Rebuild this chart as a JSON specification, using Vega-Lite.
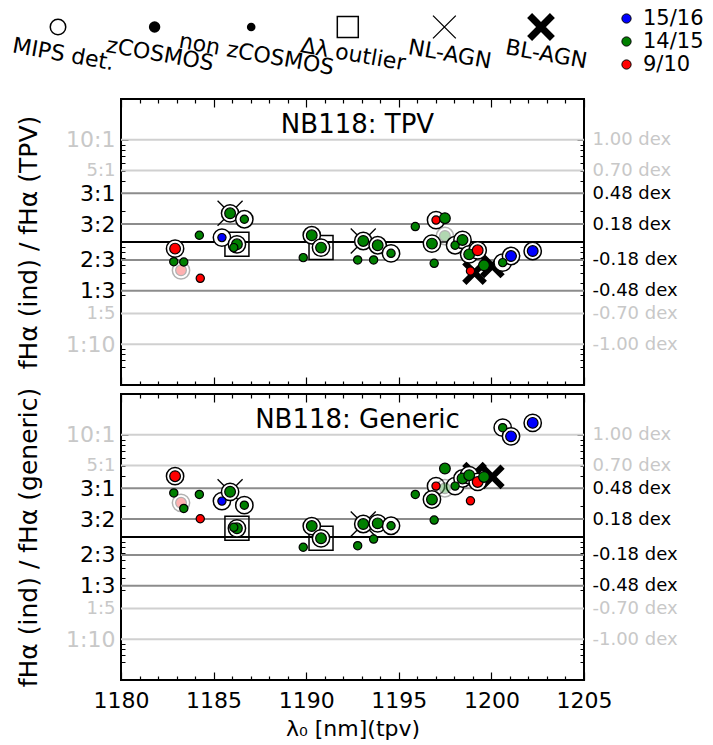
{
  "$schema": "https://vega.github.io/schema/vega-lite/v6.json",
  "padding": {"left": 9, "top": 0, "right": 5, "bottom": 5},
  "background": "white",
  "config": {
    "font": "DejaVu Sans",
    "view": {"stroke": "black", "strokeWidth": 2},
    "concat": {"spacing": 9},
    "axis": {"domain": false, "grid": false, "tickColor": "black", "labelFont": "DejaVu Sans", "titleFont": "DejaVu Sans", "titleFontWeight": "normal", "titleColor": "black", "labelOverlap": false, "labelFlush": false}
  },
  "datasets": {
    "leg": [{"k": "MIPS det."}, {"k": "zCOSMOS"}, {"k": "non zCOSMOS"}, {"k": "Δλ outlier"}, {"k": "NL-AGN"}, {"k": "BL-AGN"}],
    "grid": [{"r": 10}, {"r": 5}, {"r": 3}, {"r": 1.5}, {"r": 1}, {"r": 0.6666667}, {"r": 0.3333333}, {"r": 0.2}, {"r": 0.1}],
    "pts": [
      {"x": 1182.92, "t": 0.861, "g": 3.94, "c": "9/10", "z": 1, "m": 1, "o": 0, "a": "", "f": 0},
      {"x": 1182.85, "t": 0.642, "g": 2.70, "c": "14/15", "z": 0, "m": 0, "o": 0, "a": "", "f": 0},
      {"x": 1183.24, "t": 0.528, "g": 2.16, "c": "9/10", "z": 1, "m": 1, "o": 0, "a": "", "f": 1},
      {"x": 1183.39, "t": 0.637, "g": 1.905, "c": "14/15", "z": 0, "m": 0, "o": 0, "a": "", "f": 0},
      {"x": 1184.28, "t": 0.441, "g": 1.51, "c": "9/10", "z": 0, "m": 0, "o": 0, "a": "", "f": 0},
      {"x": 1184.23, "t": 1.164, "g": 2.61, "c": "14/15", "z": 0, "m": 0, "o": 0, "a": "", "f": 0},
      {"x": 1185.45, "t": 1.104, "g": 2.245, "c": "15/16", "z": 0, "m": 1, "o": 0, "a": "", "f": 0},
      {"x": 1185.89, "t": 1.91, "g": 2.77, "c": "14/15", "z": 1, "m": 1, "o": 0, "a": "NL", "f": 0},
      {"x": 1186.66, "t": 1.67, "g": 2.05, "c": "14/15", "z": 0, "m": 1, "o": 0, "a": "", "f": 0},
      {"x": 1186.26, "t": 0.949, "g": 1.216, "c": "14/15", "z": 1, "m": 1, "o": 1, "a": "", "f": 0},
      {"x": 1186.09, "t": 0.881, "g": 1.244, "c": "14/15", "z": 0, "m": 0, "o": 0, "a": "", "f": 0},
      {"x": 1189.84, "t": 0.703, "g": 0.794, "c": "14/15", "z": 0, "m": 0, "o": 0, "a": "", "f": 0},
      {"x": 1190.30, "t": 1.164, "g": 1.28, "c": "14/15", "z": 1, "m": 1, "o": 0, "a": "", "f": 0},
      {"x": 1190.80, "t": 0.881, "g": 0.971, "c": "14/15", "z": 1, "m": 1, "o": 1, "a": "", "f": 0},
      {"x": 1193.08, "t": 1.023, "g": 1.34, "c": "14/15", "z": 1, "m": 1, "o": 0, "a": "NL", "f": 0},
      {"x": 1192.78, "t": 0.667, "g": 0.822, "c": "14/15", "z": 0, "m": 0, "o": 0, "a": "", "f": 0},
      {"x": 1193.86, "t": 0.929, "g": 1.36, "c": "14/15", "z": 1, "m": 1, "o": 0, "a": "", "f": 0},
      {"x": 1193.64, "t": 0.667, "g": 0.955, "c": "14/15", "z": 0, "m": 0, "o": 0, "a": "", "f": 0},
      {"x": 1194.58, "t": 0.775, "g": 1.289, "c": "14/15", "z": 0, "m": 1, "o": 0, "a": "", "f": 0},
      {"x": 1195.89, "t": 1.416, "g": 2.61, "c": "14/15", "z": 0, "m": 0, "o": 0, "a": "", "f": 0},
      {"x": 1197.01, "t": 1.64, "g": 3.15, "c": "9/10", "z": 0, "m": 1, "o": 0, "a": "", "f": 0},
      {"x": 1197.49, "t": 1.71, "g": 4.68, "c": "14/15", "z": 1, "m": 0, "o": 0, "a": "", "f": 0},
      {"x": 1197.49, "t": 1.145, "g": 3.0, "c": "14/15", "z": 1, "m": 1, "o": 0, "a": "", "f": 1},
      {"x": 1196.79, "t": 0.964, "g": 2.33, "c": "14/15", "z": 1, "m": 1, "o": 0, "a": "", "f": 0},
      {"x": 1196.91, "t": 0.618, "g": 1.465, "c": "14/15", "z": 0, "m": 0, "o": 0, "a": "", "f": 0},
      {"x": 1198.04, "t": 0.929, "g": 3.15, "c": "14/15", "z": 0, "m": 1, "o": 0, "a": "", "f": 0},
      {"x": 1198.44, "t": 1.047, "g": 3.74, "c": "14/15", "z": 1, "m": 1, "o": 0, "a": "", "f": 0},
      {"x": 1198.80, "t": 0.757, "g": 4.03, "c": "14/15", "z": 1, "m": 1, "o": 0, "a": "", "f": 0},
      {"x": 1199.26, "t": 0.829, "g": 3.46, "c": "9/10", "z": 1, "m": 1, "o": 0, "a": "", "f": 0},
      {"x": 1198.87, "t": 0.52, "g": 2.26, "c": "9/10", "z": 0, "m": 0, "o": 0, "a": "", "f": 0},
      {"x": 1199.09, "t": 0.501, "g": 4.12, "c": "", "z": 0, "m": 0, "o": 0, "a": "BL", "f": 0},
      {"x": 1200.05, "t": 0.582, "g": 3.87, "c": "", "z": 0, "m": 0, "o": 0, "a": "BL", "f": 0},
      {"x": 1199.60, "t": 0.591, "g": 3.87, "c": "14/15", "z": 1, "m": 0, "o": 0, "a": "", "f": 0},
      {"x": 1200.61, "t": 0.628, "g": 11.75, "c": "14/15", "z": 0, "m": 1, "o": 0, "a": "", "f": 0},
      {"x": 1201.06, "t": 0.729, "g": 9.67, "c": "15/16", "z": 1, "m": 1, "o": 0, "a": "", "f": 0},
      {"x": 1202.23, "t": 0.816, "g": 13.1, "c": "15/16", "z": 1, "m": 1, "o": 0, "a": "", "f": 0}
    ]
  },
  "spacing": 17,
  "vconcat": [
    {
      "width": 463,
      "height": 24,
      "view": {"stroke": "transparent"},
      "data": {"name": "leg"},
      "layer": [
        {"transform": [{"filter": "datum.k=='MIPS det.'"}], "mark": {"type": "point", "shape": "circle", "filled": false, "stroke": "black", "strokeWidth": 1.5, "size": 240, "opacity": 1},
         "encoding": {"x": {"field": "k", "type": "nominal", "sort": null, "scale": {"type": "point", "domain": ["MIPS det.", "zCOSMOS", "non zCOSMOS", "Δλ outlier", "NL-AGN", "BL-AGN"], "range": [-63, 420], "padding": 0}, "axis": null}}},
        {"transform": [{"filter": "datum.k=='zCOSMOS'"}], "mark": {"type": "point", "shape": "circle", "filled": true, "color": "black", "size": 130, "opacity": 1},
         "encoding": {"x": {"field": "k", "type": "nominal", "axis": null}}},
        {"transform": [{"filter": "datum.k=='non zCOSMOS'"}], "mark": {"type": "point", "shape": "circle", "filled": true, "color": "black", "size": 75, "opacity": 1},
         "encoding": {"x": {"field": "k", "type": "nominal", "axis": null}}},
        {"transform": [{"filter": "datum.k=='Δλ outlier'"}], "mark": {"type": "point", "shape": "square", "filled": false, "stroke": "black", "strokeWidth": 1.5, "size": 440, "opacity": 1},
         "encoding": {"x": {"field": "k", "type": "nominal", "axis": null}}},
        {"transform": [{"filter": "datum.k=='NL-AGN'"}], "mark": {"type": "point", "shape": "M-1,-1L1,1M-1,1L1,-1", "filled": false, "stroke": "black", "strokeWidth": 1.3, "size": 520, "opacity": 1},
         "encoding": {"x": {"field": "k", "type": "nominal", "axis": null}}},
        {"transform": [{"filter": "datum.k=='BL-AGN'"}], "mark": {"type": "point", "shape": "M-1,-1L1,1M-1,1L1,-1", "filled": false, "stroke": "black", "strokeWidth": 7, "size": 520, "opacity": 1},
         "encoding": {"x": {"field": "k", "type": "nominal", "axis": null}}},
        {"mark": {"type": "text", "angle": 10, "align": "center", "baseline": "top", "dx": 10, "dy": 16, "fontSize": 22, "font": "DejaVu Sans", "color": "black"},
         "encoding": {"x": {"field": "k", "type": "nominal", "axis": null}, "text": {"field": "k"}}}
      ]
    },
    {
      "bounds": "flush",
      "spacing": 9,
      "vconcat": [
        {
          "width": 463,
          "height": 286,
          "layer": [
            {"data": {"name": "grid"}, "mark": {"type": "rule", "strokeWidth": 2},
             "encoding": {"y": {"field": "r", "type": "quantitative", "scale": {"type": "log", "domain": [0.0398, 25.12], "nice": false}, "axis": null},
                          "color": {"condition": [{"test": "datum.r==1", "value": "black"}, {"test": "datum.r>4||datum.r<0.25", "value": "#d0d0d0"}], "value": "#8c8c8c"}}},
            {"data": {"name": "pts"}, "transform": [{"filter": "datum.a=='BL'"}], "mark": {"type": "point", "shape": "M-1,-1L1,1M-1,1L1,-1", "filled": false, "stroke": "black", "strokeWidth": 6, "size": 420, "opacity": 1},
             "encoding": {"x": {"field": "x", "type": "quantitative", "scale": {"domain": [1180, 1205], "nice": false, "zero": false}, "axis": null},
                          "y": {"field": "t", "type": "quantitative", "axis": null}}},
            {"data": {"name": "pts"}, "transform": [{"filter": "datum.a=='NL'"}], "mark": {"type": "point", "shape": "M-1,-1L1,1M-1,1L1,-1", "filled": false, "stroke": "black", "strokeWidth": 1.3, "size": 625, "opacity": 1},
             "encoding": {"x": {"field": "x", "type": "quantitative", "axis": null}, "y": {"field": "t", "type": "quantitative", "axis": null}}},
            {"data": {"name": "pts"}, "transform": [{"filter": "datum.o==1"}], "mark": {"type": "point", "shape": "square", "filled": false, "stroke": "black", "strokeWidth": 1.5, "size": 576, "opacity": 1},
             "encoding": {"x": {"field": "x", "type": "quantitative", "axis": null}, "y": {"field": "t", "type": "quantitative", "axis": null}}},
            {"data": {"name": "pts"}, "transform": [{"filter": "datum.m==1"}], "mark": {"type": "point", "shape": "circle", "filled": true, "fill": "white", "stroke": "black", "strokeWidth": 1.5, "size": 300},
             "encoding": {"x": {"field": "x", "type": "quantitative", "axis": null}, "y": {"field": "t", "type": "quantitative", "axis": null},
                          "opacity": {"condition": {"test": "datum.f==1", "value": 0.3}, "value": 1}}},
            {"data": {"name": "pts"}, "transform": [{"filter": "datum.c!=''"}], "mark": {"type": "point", "shape": "circle", "filled": true, "stroke": "black", "strokeWidth": 1.2},
             "encoding": {
               "x": {"field": "x", "type": "quantitative", "axis": {"orient": "bottom", "values": [1180,1181,1182,1183,1184,1185,1186,1187,1188,1189,1190,1191,1192,1193,1194,1195,1196,1197,1198,1199,1200,1201,1202,1203,1204,1205], "labels": false, "title": null, "minExtent": 0, "maxExtent": 0, "tickWidth": 1.2, "tickSize": {"condition": {"test": "datum.value%5==0", "value": -8}, "value": -4}}},
               "y": {"field": "t", "type": "quantitative", "axis": {"orient": "left", "title": "fHα (ind) / fHα (TPV)", "titleFontSize": 25, "titlePadding": 30, "minExtent": 50, "maxExtent": 50,
                 "values": [0.06,0.07,0.08,0.09,0.1,0.2,0.3,0.4,0.5,0.6,0.7,0.8,0.9,1,2,3,4,5,6,7,8,9,10,1.5,0.6666667,0.3333333],
                 "labelExpr": "datum.value==10?'10:1':datum.value==5?'5:1':datum.value==3?'3:1':datum.value==1.5?'3:2':abs(datum.value-0.6666667)<0.0001?'2:3':abs(datum.value-0.3333333)<0.0001?'1:3':datum.value==0.2?'1:5':datum.value==0.1?'1:10':''",
                 "labelFontSize": {"condition": {"test": "datum.value==5||datum.value==0.2", "value": 18}, "value": 22},
                 "labelColor": {"condition": {"test": "datum.value>4||datum.value<0.25", "value": "#c8c8c8"}, "value": "black"},
                 "tickSize": {"condition": {"test": "datum.value==0.1||datum.value==1||datum.value==10", "value": -7}, "value": -4},
                 "tickOpacity": {"condition": {"test": "datum.value==1.5||abs(datum.value-0.6666667)<0.0001||abs(datum.value-0.3333333)<0.0001", "value": 0}, "value": 1},
                 "labelPadding": {"condition": {"test": "datum.value==0.1||datum.value==1||datum.value==10", "value": 13}, "value": 10}}},
               "color": {"field": "c", "type": "nominal", "scale": {"domain": ["15/16", "14/15", "9/10"], "range": ["#0000ff", "#008000", "#ff0000"]},
                         "legend": {"orient": "none", "legendX": 495, "legendY": -7, "title": null, "symbolType": "circle", "symbolSize": 85, "symbolStrokeColor": "black", "symbolStrokeWidth": 1, "labelFontSize": 21, "labelFont": "DejaVu Sans", "labelColor": "black", "rowPadding": 1, "labelOffset": 6, "padding": 0}},
               "size": {"condition": {"test": "datum.z==1", "value": 115}, "value": 68},
               "opacity": {"condition": {"test": "datum.f==1", "value": 0.3}, "value": 1}
             }},
            {"data": {"values": [{"n": "NB118: TPV"}]}, "mark": {"type": "text", "fontSize": 26, "baseline": "middle", "align": "center", "dx": 5, "color": "black"},
             "encoding": {
               "text": {"field": "n"},
               "x": {"datum": 1192.5, "type": "quantitative", "axis": {"orient": "top", "values": [1180,1181,1182,1183,1184,1185,1186,1187,1188,1189,1190,1191,1192,1193,1194,1195,1196,1197,1198,1199,1200,1201,1202,1203,1204,1205], "labels": false, "title": null, "minExtent": 0, "maxExtent": 0, "tickWidth": 1.2, "tickSize": {"condition": {"test": "datum.value%5==0", "value": -8}, "value": -4}}},
               "y": {"datum": 14, "type": "quantitative", "axis": {"orient": "right", "title": null,
                 "values": [0.06,0.07,0.08,0.09,0.1,0.2,0.3,0.4,0.5,0.6,0.7,0.8,0.9,1,2,3,4,5,6,7,8,9,10,1.5,0.6666667,0.3333333],
                 "labelExpr": "datum.value==10?'1.00 dex':datum.value==5?'0.70 dex':datum.value==3?'0.48 dex':datum.value==1.5?'0.18 dex':abs(datum.value-0.6666667)<0.0001?'-0.18 dex':abs(datum.value-0.3333333)<0.0001?'-0.48 dex':datum.value==0.2?'-0.70 dex':datum.value==0.1?'-1.00 dex':''",
                 "labelFontSize": 18, "labelAlign": "left",
                 "labelColor": {"condition": {"test": "datum.value>4||datum.value<0.25", "value": "#c8c8c8"}, "value": "black"},
                 "tickSize": {"condition": {"test": "datum.value==0.1||datum.value==1||datum.value==10", "value": -7}, "value": -4},
                 "tickOpacity": {"condition": {"test": "datum.value==1.5||abs(datum.value-0.6666667)<0.0001||abs(datum.value-0.3333333)<0.0001", "value": 0}, "value": 1},
                 "labelPadding": {"condition": {"test": "datum.value==0.1||datum.value==1||datum.value==10", "value": 15}, "value": 12}}}
             }}
          ],
          "resolve": {"axis": {"x": "independent", "y": "independent"}}
        },
        {
          "width": 463,
          "height": 286,
          "layer": [
            {"data": {"name": "grid"}, "mark": {"type": "rule", "strokeWidth": 2},
             "encoding": {"y": {"field": "r", "type": "quantitative", "scale": {"type": "log", "domain": [0.0398, 25.12], "nice": false}, "axis": null},
                          "color": {"condition": [{"test": "datum.r==1", "value": "black"}, {"test": "datum.r>4||datum.r<0.25", "value": "#d0d0d0"}], "value": "#8c8c8c"}}},
            {"data": {"name": "pts"}, "transform": [{"filter": "datum.a=='BL'"}], "mark": {"type": "point", "shape": "M-1,-1L1,1M-1,1L1,-1", "filled": false, "stroke": "black", "strokeWidth": 6, "size": 420, "opacity": 1},
             "encoding": {"x": {"field": "x", "type": "quantitative", "scale": {"domain": [1180, 1205], "nice": false, "zero": false}, "axis": null},
                          "y": {"field": "g", "type": "quantitative", "axis": null}}},
            {"data": {"name": "pts"}, "transform": [{"filter": "datum.a=='NL'"}], "mark": {"type": "point", "shape": "M-1,-1L1,1M-1,1L1,-1", "filled": false, "stroke": "black", "strokeWidth": 1.3, "size": 625, "opacity": 1},
             "encoding": {"x": {"field": "x", "type": "quantitative", "axis": null}, "y": {"field": "g", "type": "quantitative", "axis": null}}},
            {"data": {"name": "pts"}, "transform": [{"filter": "datum.o==1"}], "mark": {"type": "point", "shape": "square", "filled": false, "stroke": "black", "strokeWidth": 1.5, "size": 576, "opacity": 1},
             "encoding": {"x": {"field": "x", "type": "quantitative", "axis": null}, "y": {"field": "g", "type": "quantitative", "axis": null}}},
            {"data": {"name": "pts"}, "transform": [{"filter": "datum.m==1"}], "mark": {"type": "point", "shape": "circle", "filled": true, "fill": "white", "stroke": "black", "strokeWidth": 1.5, "size": 300},
             "encoding": {"x": {"field": "x", "type": "quantitative", "axis": null}, "y": {"field": "g", "type": "quantitative", "axis": null},
                          "opacity": {"condition": {"test": "datum.f==1", "value": 0.3}, "value": 1}}},
            {"data": {"name": "pts"}, "transform": [{"filter": "datum.c!=''"}], "mark": {"type": "point", "shape": "circle", "filled": true, "stroke": "black", "strokeWidth": 1.2},
             "encoding": {
               "x": {"field": "x", "type": "quantitative", "axis": {"orient": "bottom", "values": [1180,1181,1182,1183,1184,1185,1186,1187,1188,1189,1190,1191,1192,1193,1194,1195,1196,1197,1198,1199,1200,1201,1202,1203,1204,1205],
                 "labelExpr": "datum.value%5==0?format(datum.value,'d'):''", "labelFontSize": 22, "labelPadding": 18, "title": "λ₀ [nm](tpv)", "titleFontSize": 22, "titlePadding": 3, "tickWidth": 1.2, "tickSize": {"condition": {"test": "datum.value%5==0", "value": -8}, "value": -4}}},
               "y": {"field": "g", "type": "quantitative", "axis": {"orient": "left", "title": "fHα (ind) / fHα (generic)", "titleFontSize": 25, "titlePadding": 30, "minExtent": 50, "maxExtent": 50,
                 "values": [0.06,0.07,0.08,0.09,0.1,0.2,0.3,0.4,0.5,0.6,0.7,0.8,0.9,1,2,3,4,5,6,7,8,9,10,1.5,0.6666667,0.3333333],
                 "labelExpr": "datum.value==10?'10:1':datum.value==5?'5:1':datum.value==3?'3:1':datum.value==1.5?'3:2':abs(datum.value-0.6666667)<0.0001?'2:3':abs(datum.value-0.3333333)<0.0001?'1:3':datum.value==0.2?'1:5':datum.value==0.1?'1:10':''",
                 "labelFontSize": {"condition": {"test": "datum.value==5||datum.value==0.2", "value": 18}, "value": 22},
                 "labelColor": {"condition": {"test": "datum.value>4||datum.value<0.25", "value": "#c8c8c8"}, "value": "black"},
                 "tickSize": {"condition": {"test": "datum.value==0.1||datum.value==1||datum.value==10", "value": -7}, "value": -4},
                 "tickOpacity": {"condition": {"test": "datum.value==1.5||abs(datum.value-0.6666667)<0.0001||abs(datum.value-0.3333333)<0.0001", "value": 0}, "value": 1},
                 "labelPadding": {"condition": {"test": "datum.value==0.1||datum.value==1||datum.value==10", "value": 13}, "value": 10}}},
               "color": {"field": "c", "type": "nominal", "scale": {"domain": ["15/16", "14/15", "9/10"], "range": ["#0000ff", "#008000", "#ff0000"]},
                         "legend": {"orient": "none", "legendX": 495, "legendY": -7, "title": null, "symbolType": "circle", "symbolSize": 85, "symbolStrokeColor": "black", "symbolStrokeWidth": 1, "labelFontSize": 21, "labelFont": "DejaVu Sans", "labelColor": "black", "rowPadding": 1, "labelOffset": 6, "padding": 0}},
               "size": {"condition": {"test": "datum.z==1", "value": 115}, "value": 68},
               "opacity": {"condition": {"test": "datum.f==1", "value": 0.3}, "value": 1}
             }},
            {"data": {"values": [{"n": "NB118: Generic"}]}, "mark": {"type": "text", "fontSize": 26, "baseline": "middle", "align": "center", "dx": 5, "color": "black"},
             "encoding": {
               "text": {"field": "n"},
               "x": {"datum": 1192.5, "type": "quantitative", "axis": {"orient": "top", "values": [1180,1181,1182,1183,1184,1185,1186,1187,1188,1189,1190,1191,1192,1193,1194,1195,1196,1197,1198,1199,1200,1201,1202,1203,1204,1205], "labels": false, "title": null, "minExtent": 0, "maxExtent": 0, "tickWidth": 1.2, "tickSize": {"condition": {"test": "datum.value%5==0", "value": -8}, "value": -4}}},
               "y": {"datum": 14, "type": "quantitative", "axis": {"orient": "right", "title": null,
                 "values": [0.06,0.07,0.08,0.09,0.1,0.2,0.3,0.4,0.5,0.6,0.7,0.8,0.9,1,2,3,4,5,6,7,8,9,10,1.5,0.6666667,0.3333333],
                 "labelExpr": "datum.value==10?'1.00 dex':datum.value==5?'0.70 dex':datum.value==3?'0.48 dex':datum.value==1.5?'0.18 dex':abs(datum.value-0.6666667)<0.0001?'-0.18 dex':abs(datum.value-0.3333333)<0.0001?'-0.48 dex':datum.value==0.2?'-0.70 dex':datum.value==0.1?'-1.00 dex':''",
                 "labelFontSize": 18, "labelAlign": "left",
                 "labelColor": {"condition": {"test": "datum.value>4||datum.value<0.25", "value": "#c8c8c8"}, "value": "black"},
                 "tickSize": {"condition": {"test": "datum.value==0.1||datum.value==1||datum.value==10", "value": -7}, "value": -4},
                 "tickOpacity": {"condition": {"test": "datum.value==1.5||abs(datum.value-0.6666667)<0.0001||abs(datum.value-0.3333333)<0.0001", "value": 0}, "value": 1},
                 "labelPadding": {"condition": {"test": "datum.value==0.1||datum.value==1||datum.value==10", "value": 15}, "value": 12}}}
             }}
          ],
          "resolve": {"axis": {"x": "independent", "y": "independent"}}
        }
      ]
    }
  ]
}
